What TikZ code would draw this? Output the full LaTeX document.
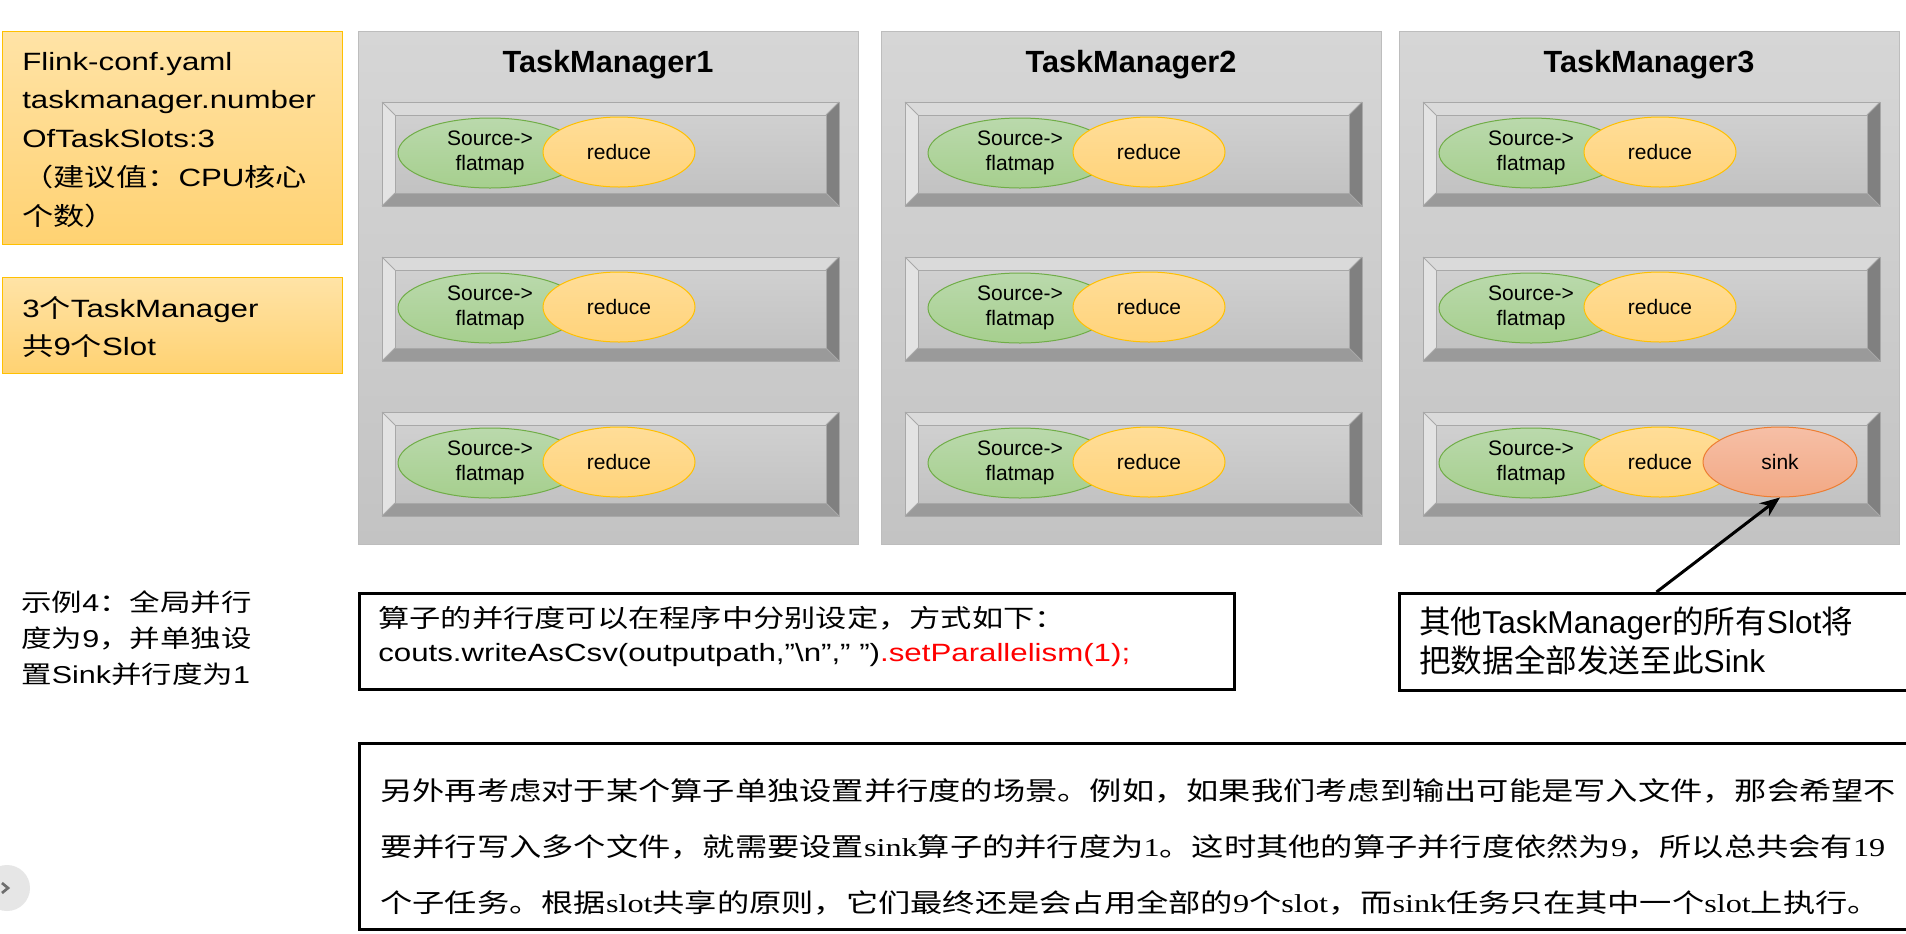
\documentclass[tikz,border=0pt]{standalone}
\usepackage{fontspec}
\setmainfont{Liberation Sans}
\newfontfamily\sansW[FakeStretch=1.25]{Liberation Sans}
\newfontfamily\serifW[FakeStretch=1.25]{Liberation Serif}
\newfontfamily\cjkW[FakeStretch=1.25]{Noto Sans CJK SC}
\newfontfamily\cjkN{Noto Sans CJK SC}
\newcommand{\zw}[1]{{\cjkW #1}}
\newcommand{\zn}[1]{{\cjkN #1}}
\usetikzlibrary{shapes.geometric,arrows.meta}
\definecolor{cfgT}{HTML}{FFE3A6}
\definecolor{cfgB}{HTML}{FFD272}
\definecolor{cfgD}{HTML}{FFC000}
\definecolor{tmT}{HTML}{D6D6D6}
\definecolor{tmB}{HTML}{C3C3C3}
\definecolor{tmD}{HTML}{BDBDBD}
\definecolor{grnT}{HTML}{BAD9AC}
\definecolor{grnB}{HTML}{A6CF8E}
\definecolor{grnD}{HTML}{70AD47}
\definecolor{orgT}{HTML}{FFDD98}
\definecolor{orgB}{HTML}{FFD37A}
\definecolor{orgD}{HTML}{FFC000}
\definecolor{snkT}{HTML}{F6BFA6}
\definecolor{snkB}{HTML}{F2A985}
\definecolor{snkD}{HTML}{ED7D31}
\definecolor{bvTop}{HTML}{DADADA}
\definecolor{bvLeft}{HTML}{E3E3E3}
\definecolor{bvRight}{HTML}{808080}
\definecolor{bvBot}{HTML}{9A9A9A}
\definecolor{bvFaceT}{HTML}{D0D0D0}
\definecolor{bvFaceB}{HTML}{C2C2C2}
\definecolor{bvLine}{HTML}{A8A8A8}
\definecolor{navgray}{HTML}{E6E6E6}
\definecolor{navdark}{HTML}{6E6E6E}
\definecolor{codered}{HTML}{FF0000}
\begin{document}
\begin{tikzpicture}[x=0.75pt,y=-0.75pt,
  txt/.style={inner sep=0pt, anchor=base west},
  cfgbox/.style={draw=cfgD, line width=0.75pt, top color=cfgT, bottom color=cfgB, anchor=north west, inner sep=0pt, minimum width=255pt},
  tmbox/.style={draw=tmD, line width=0.75pt, top color=tmT, bottom color=tmB, anchor=north west, inner sep=0pt, minimum width=375pt, minimum height=384.75pt},
  tmtitle/.style={inner sep=0pt, anchor=base, font=\fontsize{23}{23}\selectfont\bfseries},
  opnode/.style={ellipse, line width=0.75pt, inner sep=0pt, minimum height=52.5pt, align=center, font=\fontsize{15.75}{18.75}\selectfont},
  src/.style={opnode, draw=grnD, top color=grnT, bottom color=grnB, minimum width=138pt},
  redop/.style={opnode, draw=orgD, top color=orgT, bottom color=orgB, minimum width=114pt},
  sinkop/.style={opnode, draw=snkD, top color=snkT, bottom color=snkB, minimum width=115.5pt},
  blackbox/.style={draw=black, line width=2.25pt, fill=white, anchor=north west, inner sep=0pt},
  sinkarrow/.style={line width=2.25pt, -{Stealth[length=15pt,width=12pt]}},
  slotbox/.pic={
    \fill[bvTop] (0,0) -- (457,0) -- (444,13) -- (13,13) -- cycle;
    \fill[bvLeft] (0,0) -- (13,13) -- (13,91) -- (0,104) -- cycle;
    \fill[bvRight] (457,0) -- (457,104) -- (444,91) -- (444,13) -- cycle;
    \fill[bvBot] (0,104) -- (457,104) -- (444,91) -- (13,91) -- cycle;
    \shade[top color=bvFaceT, bottom color=bvFaceB] (13,13) rectangle (444,91);
    \draw[bvLine, line width=0.75pt] (0,0) rectangle (457,104);
    \draw[bvLine, line width=0.6pt] (13,13) rectangle (444,91);
    \draw[bvLine, line width=0.6pt] (0,0) -- (13,13) (457,0) -- (444,13) (457,104) -- (444,91) (0,104) -- (13,91);
  }
]
\fill[white] (0,0) rectangle (1906,933);
\useasboundingbox (0,0) rectangle (1906,933);

% configuration boxes
\node[cfgbox, minimum height=159.75pt] (cfg) at (2,31) {};
\begin{scope}[every node/.style={txt, font=\sansW\fontsize{18.75}{18.75}\selectfont}]
\node (cfgA) at (22,70) {Flink-conf.yaml};
\node (cfgB) at (22,108.5) {taskmanager.number};
\node (cfgC) at (22,147) {OfTaskSlots:3};
\node (cfgD) at (22,186) {\zw{（建议值：}CPU\zw{核心}};
\node (cfgE) at (22,225) {\zw{个数）}};
\end{scope}
\node[cfgbox, minimum height=72pt] (slots) at (2,277) {};
\begin{scope}[every node/.style={txt, font=\sansW\fontsize{18.75}{18.75}\selectfont}]
\node (slotsA) at (22,317) {3\zw{个}TaskManager};
\node (slotsB) at (22,355) {\zw{共}9\zw{个}Slot};
\end{scope}

% task managers
\foreach \t/\X/\E in {1/358/0,2/881/7,3/1399/0}{
  \node[tmbox] (tm\t) at (\X,31) {};
  \node[tmtitle] (tmt\t) at (\X+250,72) {TaskManager\t};
  \foreach \s/\Y in {1/102,2/257,3/412}{
    \pic at (\X+24,\Y) {slotbox};
    \node[src] (src\t\s) at (\X+\E+132,\Y+51) {Source->\\flatmap};
    \node[redop] (red\t\s) at (\X+\E+261,\Y+50) {reduce};
  }
}
\node[sinkop] (sink) at (1780,462) {sink};

% example text
\begin{scope}[every node/.style={txt, font=\sansW\fontsize{18.3}{18.3}\selectfont}]
\node (exA) at (21,611) {\zw{示例}4\zw{：全局并行}};
\node (exB) at (21,647) {\zw{度为}9\zw{，并单独设}};
\node (exC) at (21,683) {\zw{置}Sink\zw{并行度为}1};
\end{scope}

% code box
\node[blackbox, minimum width=656.25pt, minimum height=72pt] (code) at (358,592) {};
\begin{scope}[every node/.style={txt, font=\sansW\fontsize{18.75}{18.75}\selectfont}]
\node (codeA) at (378,627) {\zw{算子的并行度可以在程序中分别设定，方式如下：}};
\node (codeB) at (378,661) {couts.writeAsCsv(outputpath,”\textbackslash n”,” ”)\textcolor{codered}{.setParallelism(1);}};
\end{scope}

% note box
\node[blackbox, minimum width=385.5pt, minimum height=72.75pt] (note) at (1398,592) {};
\begin{scope}[every node/.style={txt, font=\fontsize{23.7}{23.7}\selectfont}]
\node (noteA) at (1419,633) {\zn{其他}TaskManager\zn{的所有}Slot\zn{将}};
\node (noteB) at (1419,672) {\zn{把数据全部发送至此}Sink};
\end{scope}
\draw[sinkarrow] (note.north) -- (sink.south);

% bottom explanation box
\node[blackbox, minimum width=1165.5pt, minimum height=139.5pt] (expl) at (358,742) {};
\begin{scope}[every node/.style={txt, font=\serifW\fontsize{19.35}{19.35}\selectfont}]
\node (explA) at (380,800) {\zw{另外再考虑对于某个算子单独设置并行度的场景。例如，如果我们考虑到输出可能是写入文件，那会希望不}};
\node (explB) at (380,856) {\zw{要并行写入多个文件，就需要设置}sink\zw{算子的并行度为}1\zw{。这时其他的算子并行度依然为}9\zw{，所以总共会有}19};
\node (explC) at (380,912) {\zw{个子任务。根据}slot\zw{共享的原则，它们最终还是会占用全部的}9\zw{个}slot\zw{，而}sink\zw{任务只在其中一个}slot\zw{上执行。}};
\end{scope}

% navigation button at the left edge
\node[circle, fill=navgray, minimum size=34.5pt, inner sep=0pt] (navbtn) at (7,888) {};
\draw[navdark, line width=2pt] (2,883) -- (8,888) -- (2,893);
\end{tikzpicture}
\end{document}
